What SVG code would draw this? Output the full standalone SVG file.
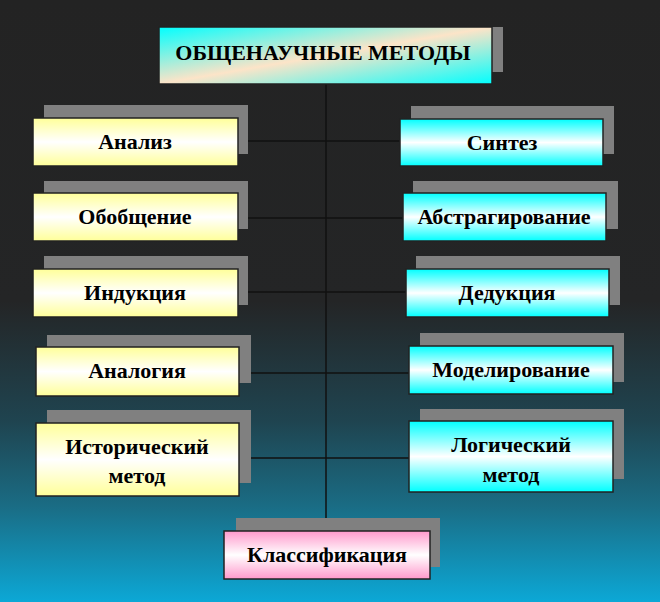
<svg xmlns="http://www.w3.org/2000/svg" width="660" height="602" viewBox="0 0 660 602">
<defs>
<linearGradient id="bg" x1="0" y1="0" x2="0" y2="1">
<stop offset="0" stop-color="#232323"/>
<stop offset="0.5" stop-color="#242526"/>
<stop offset="0.7" stop-color="#1f4450"/>
<stop offset="0.84" stop-color="#1a6c84"/>
<stop offset="1" stop-color="#0ca8d6"/>
</linearGradient>
<linearGradient id="gy" x1="0" y1="0" x2="0" y2="1">
<stop offset="0" stop-color="#ffff99"/>
<stop offset="0.5" stop-color="#ffffff"/>
<stop offset="1" stop-color="#ffff99"/>
</linearGradient>
<linearGradient id="gc" x1="0" y1="0" x2="0" y2="1">
<stop offset="0" stop-color="#00ffff"/>
<stop offset="0.5" stop-color="#ffffff"/>
<stop offset="1" stop-color="#00ffff"/>
</linearGradient>
<linearGradient id="gp" x1="0" y1="0" x2="0" y2="1">
<stop offset="0" stop-color="#ff99cc"/>
<stop offset="0.5" stop-color="#ffffff"/>
<stop offset="1" stop-color="#ff99cc"/>
</linearGradient>
<linearGradient id="gt" x1="0" y1="0" x2="1" y2="1">
<stop offset="0" stop-color="#00ffff"/>
<stop offset="0.5" stop-color="#fce4c8"/>
<stop offset="1" stop-color="#00ffff"/>
</linearGradient>
<style>
.sh{fill:#808080}
.bx{stroke:#222;stroke-width:1.5}
.y{fill:url(#gy)}
.c{fill:url(#gc)}
.p{fill:url(#gp)}
.t{font-family:"Liberation Serif","Times New Roman",serif;font-weight:bold;font-size:22px;fill:#000;text-anchor:middle}
.ln{stroke:#111;stroke-width:1.5;fill:none}
</style>
</defs>
<rect x="0" y="0" width="660" height="602" fill="url(#bg)"/>

<g id="connectors">
<line class="ln" x1="326" y1="84" x2="326" y2="531"/>
<line class="ln" x1="238" y1="141" x2="400" y2="141"/>
<line class="ln" x1="238" y1="218" x2="403" y2="218"/>
<line class="ln" x1="238" y1="292" x2="406" y2="292"/>
<line class="ln" x1="239" y1="373" x2="409" y2="373"/>
<line class="ln" x1="239" y1="458" x2="409" y2="458"/>
</g>

<g id="title">
<rect class="sh" x="170" y="27" width="333" height="45"/>
<rect class="bx" x="159" y="27" width="333" height="57" fill="url(#gt)"/>
<text class="t" x="323" y="60">ОБЩЕНАУЧНЫЕ МЕТОДЫ</text>
</g>

<g id="analiz">
<rect class="sh" x="44" y="105" width="204" height="49"/>
<rect class="bx y" x="33" y="118" width="205" height="48"/>
<text class="t" x="135" y="149">Анализ</text>
</g>
<g id="sintez">
<rect class="sh" x="411" y="106" width="203" height="48"/>
<rect class="bx c" x="400" y="119" width="203" height="47"/>
<text class="t" x="502" y="150">Синтез</text>
</g>

<g id="obobshchenie">
<rect class="sh" x="44" y="181" width="204" height="48"/>
<rect class="bx y" x="33" y="193" width="205" height="48"/>
<text class="t" x="135" y="224">Обобщение</text>
</g>
<g id="abstragirovanie">
<rect class="sh" x="413" y="181" width="205" height="48"/>
<rect class="bx c" x="403" y="193" width="203" height="48"/>
<text class="t" x="504" y="224">Абстрагирование</text>
</g>

<g id="indukciya">
<rect class="sh" x="44" y="256" width="204" height="49"/>
<rect class="bx y" x="33" y="269" width="205" height="48"/>
<text class="t" x="135" y="300">Индукция</text>
</g>
<g id="dedukciya">
<rect class="sh" x="416" y="256" width="204" height="49"/>
<rect class="bx c" x="406" y="269" width="203" height="48"/>
<text class="t" x="507" y="300">Дедукция</text>
</g>

<g id="analogiya">
<rect class="sh" x="47" y="335" width="204" height="48"/>
<rect class="bx y" x="36" y="347" width="203" height="49"/>
<text class="t" x="137" y="378">Аналогия</text>
</g>
<g id="modelirovanie">
<rect class="sh" x="420" y="333" width="204" height="49"/>
<rect class="bx c" x="409" y="346" width="204" height="48"/>
<text class="t" x="511" y="377">Моделирование</text>
</g>

<g id="istoricheskiy">
<rect class="sh" x="47" y="410" width="204" height="73"/>
<rect class="bx y" x="36" y="423" width="203" height="73"/>
<text class="t" x="137" y="454">Исторический</text>
<text class="t" x="137" y="483">метод</text>
</g>
<g id="logicheskiy">
<rect class="sh" x="420" y="409" width="204" height="70"/>
<rect class="bx c" x="409" y="421" width="204" height="71"/>
<text class="t" x="511" y="452">Логический</text>
<text class="t" x="511" y="482">метод</text>
</g>

<g id="klassifikaciya">
<rect class="sh" x="236" y="518" width="204" height="49"/>
<rect class="bx p" x="224" y="531" width="206" height="48"/>
<text class="t" x="327" y="562">Классификация</text>
</g>
</svg>
